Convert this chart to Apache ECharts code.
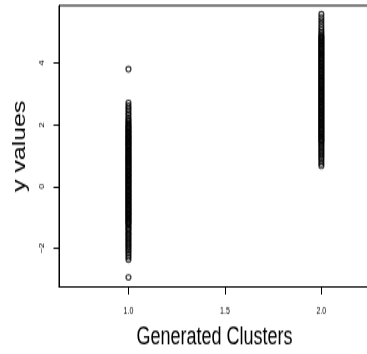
<!DOCTYPE html>
<html>
<head>
<meta charset="utf-8">
<script src="https://cdn.jsdelivr.net/npm/echarts@6.0.0/dist/echarts.min.js"></script>
<style>
  html { margin: 0; padding: 0; background: #fff; overflow: hidden; }
  body { margin: 0; padding: 0; width: 367px; height: 354px; }
  /* the reference is an R plot stretched vertically, so draw flat and stretch */
  #chart { width: 367px; height: 256px; transform: scaleY(1.3828); transform-origin: 0 0; }
</style>
</head>
<body>
<div id="chart"></div>
<script>
// x positions of the two clusters
const clusterX = [1, 2];

// y values (dense columns estimated)
const cluster1Y = [
  3.80,
  2.71, 2.62, 2.54, 2.46, 2.37, 2.30, 2.22, 2.16, 2.11, 2.05, 2.01, 1.96,
  1.92, 1.89, 1.85, 1.80, 1.77, 1.74, 1.69, 1.66, 1.62, 1.58, 1.55, 1.52, 1.47, 1.44, 1.41, 1.36,
  1.33, 1.30, 1.26, 1.21, 1.18, 1.15, 1.11, 1.06, 1.04, 1.00, 0.96, 0.92, 0.89, 0.86, 0.81, 0.78,
  0.75, 0.70, 0.67, 0.63, 0.60, 0.55, 0.52, 0.49, 0.45, 0.41, 0.37, 0.34, 0.31, 0.26, 0.23, 0.19,
  0.16, 0.12, 0.08, 0.05, 0.01, -0.03, -0.06, -0.11, -0.14, -0.17, -0.21, -0.26, -0.28, -0.32,
  -0.36, -0.40, -0.43, -0.47, -0.50, -0.55, -0.58, -0.61, -0.65, -0.70, -0.72, -0.76, -0.80,
  -0.84, -0.87, -0.91, -0.94, -0.98, -1.03, -1.05, -1.09, -1.13, -1.17, -1.20,
  -1.25, -1.31, -1.36, -1.41, -1.48, -1.53, -1.58, -1.65, -1.70, -1.76, -1.83, -1.88, -1.94,
  -2.00, -2.06, -2.13, -2.21, -2.29, -2.37, -2.94
];
const cluster2Y = [
  5.58, 5.47, 5.37, 5.27, 5.17, 5.08, 5.00, 4.93, 4.87,
  4.83, 4.80, 4.75, 4.71, 4.68, 4.63, 4.59, 4.56, 4.51, 4.47, 4.44, 4.39, 4.35, 4.32, 4.27, 4.24,
  4.19, 4.15, 4.12, 4.07, 4.03, 4.00, 3.95, 3.91, 3.88, 3.83, 3.79, 3.76, 3.71, 3.67, 3.64, 3.59,
  3.55, 3.52, 3.47, 3.43, 3.40, 3.35, 3.31, 3.28, 3.23, 3.19, 3.16, 3.11, 3.07, 3.04, 2.99, 2.95,
  2.92, 2.87, 2.83, 2.80, 2.75, 2.71, 2.68, 2.63, 2.59, 2.56, 2.51, 2.47, 2.44, 2.39, 2.35, 2.32,
  2.27, 2.23, 2.20, 2.15, 2.11, 2.08, 2.03, 1.99, 1.96, 1.91, 1.87, 1.84, 1.79, 1.75, 1.72, 1.67,
  1.63, 1.60, 1.55, 1.51, 1.48, 1.43,
  1.38, 1.32, 1.26, 1.20, 1.14, 1.08, 1.02, 0.96, 0.89, 0.82, 0.74, 0.67
];

const xTicks = [1, 1.5, 2];
const xTickLabels = ['1.0', '1.5', '2.0'];
const yTicks = [-2, 0, 2, 4];
const yTickLabels = ['\u22122', '0', '2', '4'];

const FONT = "'Liberation Sans', Arial, sans-serif";

const chart = echarts.init(document.getElementById('chart'));

function pointsFor(x, ys) {
  return ys.map(y => [x, y]);
}

const pointStyle = {
  type: 'scatter',
  symbol: 'circle',
  symbolSize: [4.8, 3.8],
  itemStyle: { color: 'rgba(0,0,0,0)', borderColor: '#000', borderWidth: 1.2 },
  emphasis: { disabled: true },
  silent: true
};

chart.setOption({
  animation: false,
  backgroundColor: '#fff',
  grid: {
    left: 59, right: -3, top: 4, bottom: 48.5,
    outerBoundsMode: 'none',
    show: true, borderColor: '#000', borderWidth: 1, backgroundColor: 'rgba(0,0,0,0)'
  },
  xAxis: {
    type: 'value',
    min: 0.64, max: 2.252,
    name: 'Generated Clusters',
    nameLocation: 'middle',
    nameGap: 28,
    nameTextStyle: { fontFamily: FONT, fontSize: 18, color: '#000' },
    axisLine: { show: true, onZero: false, lineStyle: { color: '#000', width: 1 } },
    axisTick: { show: true, inside: false, length: 5.5, customValues: xTicks, lineStyle: { color: '#000' } },
    axisLabel: {
      customValues: xTicks,
      formatter: v => xTickLabels[xTicks.indexOf(v)],
      fontFamily: FONT, fontSize: 7, color: '#000', margin: 14
    },
    splitLine: { show: false }
  },
  yAxis: {
    type: 'value',
    min: -3.25, max: 5.86,
    name: 'y values',
    nameLocation: 'middle',
    nameGap: 30,
    nameTextStyle: { fontFamily: FONT, fontSize: 18, color: '#000' },
    axisLine: { show: true, onZero: false, lineStyle: { color: '#000', width: 1 } },
    axisTick: { show: true, inside: false, length: 5.5, customValues: yTicks, lineStyle: { color: '#000' } },
    axisLabel: {
      customValues: yTicks,
      formatter: v => yTickLabels[yTicks.indexOf(v)],
      rotate: 90,
      fontFamily: FONT, fontSize: 7, color: '#000', margin: 13
    },
    splitLine: { show: false }
  },
  series: [
    Object.assign({ data: pointsFor(clusterX[0], cluster1Y) }, pointStyle),
    Object.assign({ data: pointsFor(clusterX[1], cluster2Y) }, pointStyle)
  ]
});
</script>
</body>
</html>
